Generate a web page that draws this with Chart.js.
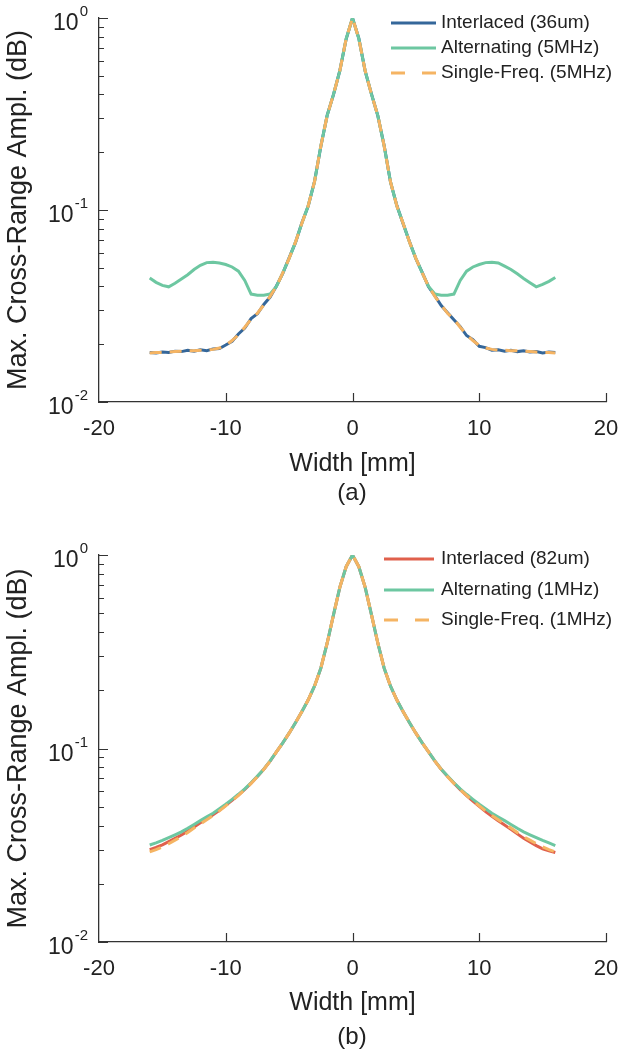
<!DOCTYPE html>
<html><head><meta charset="utf-8">
<script src="https://cdn.jsdelivr.net/npm/chart.js@4/dist/chart.umd.min.js"></script>
<style>
html,body{margin:0;padding:0;background:#fff;}
#wrap{position:relative;width:622px;height:1054px;overflow:hidden;}
canvas{position:absolute;left:0;}
.cap{position:absolute;transform:translateX(-50%);font:24px "Liberation Sans",Arial,sans-serif;color:#222;line-height:28px;white-space:nowrap;}
</style></head><body>
<div id="wrap">
<canvas id="ca" width="622" height="527" style="top:0;width:622px;height:527px"></canvas>
<canvas id="cb" width="622" height="527" style="top:527px;width:622px;height:527px"></canvas>
<div class="cap" style="left:352px;top:478px">(a)</div>
<div class="cap" style="left:352px;top:1022px">(b)</div>
</div>
<script>
// ---- data ----
const widthMM = [-16,-15.5,-15,-14.5,-14,-13.5,-13,-12.5,-12,-11.5,-11,-10.5,-10,-9.5,-9,-8.5,-8,-7.5,-7,-6.5,-6,-5.5,-5,-4.5,-4,-3.5,-3,-2.5,-2,-1.5,-1,-0.5,0,0.5,1,1.5,2,2.5,3,3.5,4,4.5,5,5.5,6,6.5,7,7.5,8,8.5,9,9.5,10,10.5,11,11.5,12,12.5,13,13.5,14,14.5,15,15.5,16];

const aInterlaced = [.0181,.0180,.0182,.0181,.0184,.0183,.0186,.0184,.0187,.0185,.0189,.0190,.0198,.0207,.0226,.0243,.0272,.0288,.0322,.0352,.0402,.0468,.0563,.0676,.0855,.1045,.1405,.2140,.3110,.3990,.5320,.7770,1.0,
 .7830,.5290,.4010,.3090,.2160,.1395,.1055,.0845,.0684,.0557,.0473,.0398,.0357,.0318,.0292,.0268,.0247,.0222,.0211,.0195,.0192,.0186,.0187,.0184,.0186,.0183,.0185,.0182,.0183,.0180,.0182,.0181];
const aAlternating = [.0442,.0420,.0405,.0398,.0415,.0437,.0460,.0490,.0515,.0532,.0535,.0530,.0520,.0505,.0480,.0430,.0365,.0360,.0360,.0365,.0400,.0470,.0560,.0680,.0850,.1050,.1400,.2150,.3100,.4000,.5300,.7800,1.0,
 .7800,.5300,.4000,.3100,.2150,.1400,.1050,.0850,.0680,.0560,.0470,.0400,.0365,.0360,.0360,.0365,.0430,.0480,.0505,.0520,.0532,.0535,.0530,.0510,.0490,.0465,.0440,.0418,.0398,.0410,.0425,.0445];
const aSingle = [.0180,.0181,.0181,.0182,.0183,.0184,.0185,.0185,.0186,.0186,.0188,.0191,.0197,.0209,.0224,.0245,.0270,.0290,.0320,.0355,.0400,.0470,.0560,.0680,.0850,.1050,.1400,.2150,.3100,.4000,.5300,.7800,1.0,
 .7800,.5300,.4000,.3100,.2150,.1400,.1050,.0850,.0680,.0560,.0470,.0400,.0355,.0320,.0290,.0270,.0245,.0224,.0209,.0197,.0191,.0188,.0186,.0186,.0185,.0185,.0184,.0183,.0182,.0181,.0181,.0180];

const bInterlaced = [.0300,.0308,.0318,.0330,.0343,.0357,.0374,.0393,.0413,.0433,.0455,.0480,.0508,.0540,.0574,.0614,.0662,.0716,.0781,.0861,.0960,.1070,.1200,.1360,.1550,.1780,.2100,.2600,.3500,.4900,.6800,.8700,1.0,
 .8700,.6800,.4900,.3500,.2600,.2100,.1780,.1550,.1360,.1200,.1070,.0960,.0861,.0781,.0716,.0662,.0613,.0571,.0535,.0502,.0472,.0446,.0423,.0402,.0382,.0362,.0344,.0329,.0315,.0303,.0296,.0290];
const bAlternating = [.0317,.0325,.0335,.0346,.0358,.0371,.0387,.0405,.0424,.0443,.0463,.0488,.0515,.0546,.0580,.0618,.0665,.0720,.0782,.0862,.0960,.1070,.1200,.1360,.1550,.1780,.2100,.2600,.3500,.4900,.6800,.8700,1.0,
 .8700,.6800,.4900,.3500,.2600,.2100,.1780,.1550,.1360,.1200,.1070,.0960,.0862,.0782,.0720,.0665,.0618,.0580,.0546,.0515,.0488,.0463,.0443,.0424,.0405,.0387,.0371,.0358,.0346,.0335,.0325,.0315];
const bSingle = [.0292,.0300,.0310,.0322,.0336,.0350,.0368,.0388,.0408,.0428,.0450,.0476,.0505,.0537,.0572,.0612,.0660,.0715,.0780,.0860,.0960,.1070,.1200,.1360,.1550,.1780,.2100,.2600,.3500,.4900,.6800,.8700,1.0,
 .8700,.6800,.4900,.3500,.2600,.2100,.1780,.1550,.1360,.1200,.1070,.0960,.0860,.0780,.0715,.0660,.0612,.0572,.0537,.0505,.0476,.0450,.0428,.0408,.0388,.0368,.0350,.0336,.0322,.0310,.0300,.0292];

const labelsA = ['Interlaced (36um)','Alternating (5MHz)','Single-Freq. (5MHz)'];
const labelsB = ['Interlaced (82um)','Alternating (1MHz)','Single-Freq. (1MHz)'];
const xTickValues = [-20,-10,0,10,20];
const yMajorValues = [1,0.1,0.01];
const yMajorExponents = ['0','-1','-2'];
const xTitle = 'Width [mm]';
const yTitle = 'Max. Cross-Range Ampl. (dB)';

// ---- styling ----
const FONT = '"Liberation Sans", Arial, Helvetica, sans-serif';
const AXIS = '#333333';
const TXT = '#222222';
const BLUE = '#35679a', GREEN = '#6dc7a1', ORANGE = '#f5b463', RED = '#e0604c';
const DASH = [12, 8];

function pts(arr){ return arr.map((v,i)=>({x:widthMM[i], y:v})); }

const decor = {
  id:'decor',
  afterDraw(chart, args, o){
    const ctx = chart.ctx, ys = chart.scales.y, xs = chart.scales.x, ca = chart.chartArea;
    ctx.save();
    ctx.strokeStyle = AXIS; ctx.lineWidth = 1.2; ctx.setLineDash([]);
    ctx.beginPath();
    for (let e=-2; e<=0; e++) for (let m=1; m<=9; m++){
      const v = m*Math.pow(10,e); if (v>1.0001) continue;
      const py = Math.round(ys.getPixelForValue(v))+0.5;
      const len = m===1 ? 9 : 5;
      ctx.moveTo(ca.left, py); ctx.lineTo(ca.left+len, py);
    }
    xTickValues.forEach(v=>{ if (v===xs.min) return; const px = Math.round(xs.getPixelForValue(v))+0.5; ctx.moveTo(px, ca.bottom); ctx.lineTo(px, ca.bottom-9); });
    ctx.stroke();
    // y labels 10^n
    ctx.fillStyle = TXT; ctx.textBaseline = 'alphabetic'; ctx.textAlign = 'right';
    yMajorValues.forEach((v,i)=>{
      const py = ys.getPixelForValue(v);
      const xr = ca.left - 11;
      ctx.font = '15px '+FONT;
      const ew = ctx.measureText(yMajorExponents[i]).width;
      ctx.fillText(yMajorExponents[i], xr, py - 2);
      ctx.font = '23px '+FONT;
      ctx.fillText('10', xr - ew - 1, py + 12);
    });
    // legend
    ctx.textAlign = 'left'; ctx.textBaseline = 'middle'; ctx.font = '19px '+FONT;
    chart.data.datasets.forEach((ds,i)=>{
      const y = o.rows[i];
      ctx.strokeStyle = ds.borderColor; ctx.lineWidth = 3;
      ctx.setLineDash(ds.borderDash && ds.borderDash.length ? [14,17] : []);
      ctx.beginPath(); ctx.moveTo(o.x0, y); ctx.lineTo(o.x1, y); ctx.stroke();
      ctx.fillStyle = TXT; ctx.fillText(ds.label, o.tx, y);
    });
    ctx.restore();
  }
};

function build(id, series, labels, colors, cfg){
  const ds = series.map((s,i)=>({
    label: labels[i], data: pts(s), borderColor: colors[i], backgroundColor: colors[i],
    borderWidth: 3, pointRadius: 0, tension: 0, fill: false,
    borderDash: i===2 ? DASH : [], order: 2-i, borderCapStyle:'butt'
  }));
  return new Chart(document.getElementById(id), {
    type:'line',
    data:{ datasets: ds },
    plugins:[decor],
    options:{
      responsive:false, animation:false, events:[],
      layout:{ padding:{ left:0, right:16, top:cfg.top, bottom:cfg.padB } },
      plugins:{ legend:{display:false}, tooltip:{enabled:false}, decor: cfg.legend },
      scales:{
        x:{ type:'linear', min:-20, max:20,
            afterBuildTicks: s=>{ s.ticks = xTickValues.map(v=>({value:v})); },
            grid:{display:false, drawTicks:false},
            border:{display:true, color:AXIS, width:1.3},
            ticks:{ font:{family:FONT, size:22}, color:TXT, padding:14, maxRotation:0, autoSkip:false },
            title:{ display:true, text:xTitle, font:{family:FONT, size:25}, color:TXT, padding:{top:4,bottom:4} },
            afterFit: s=>{ s.height = cfg.xH; s.paddingRight = 0; s.paddingLeft = 0; } },
        y:{ type:'logarithmic', min:0.01, max:1,
            grid:{display:false, drawTicks:false},
            border:{display:true, color:AXIS, width:1.3},
            ticks:{ display:false },
            title:{ display:true, text:yTitle, font:{family:FONT, size:27}, color:TXT, padding:{top:2,bottom:2} },
            afterFit: s=>{ s.width = 99; s.paddingTop = 0; s.paddingBottom = 0; } }
      }
    }
  });
}

build('ca', [aInterlaced, aAlternating, aSingle], labelsA, [BLUE, GREEN, ORANGE],
  { top:18, xH:81, padB:44, legend:{ rows:[23,48,73], x0:391, x1:436, tx:441 } });
build('cb', [bInterlaced, bAlternating, bSingle], labelsB, [RED, GREEN, ORANGE],
  { top:28, xH:80, padB:32, legend:{ rows:[32,63,93], x0:384, x1:434, tx:441 } });
</script>
</body></html>
